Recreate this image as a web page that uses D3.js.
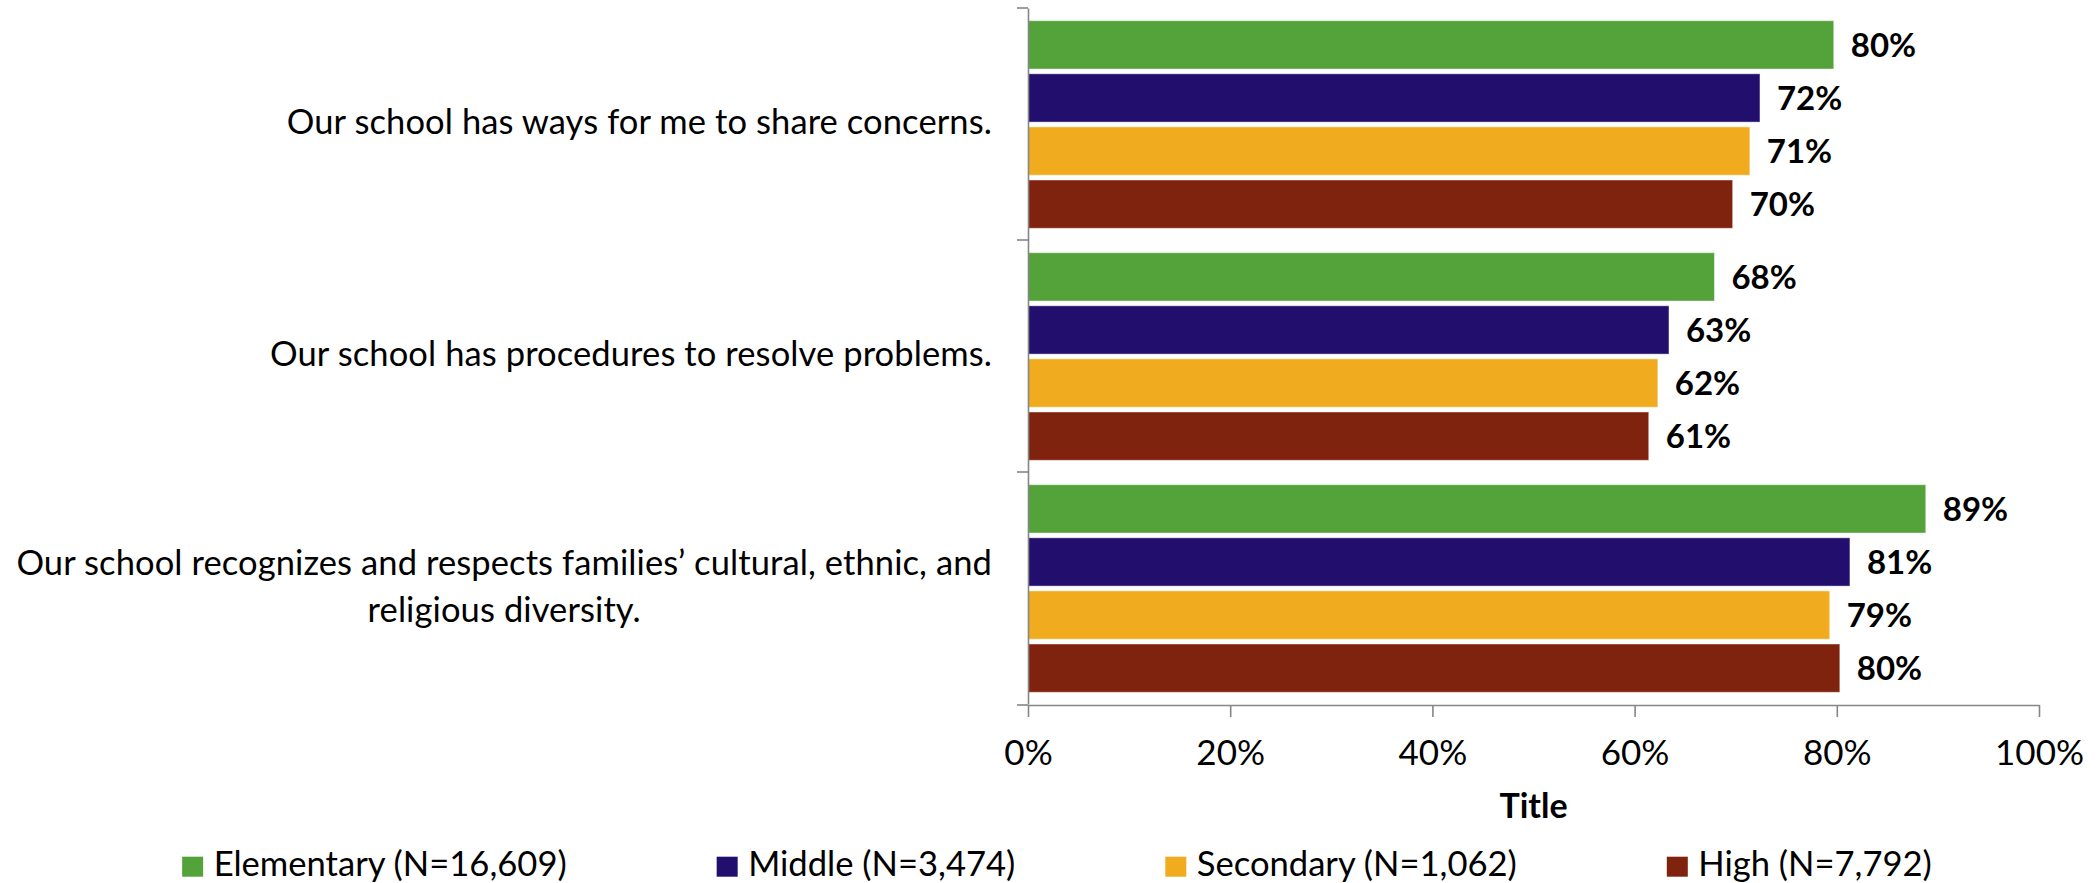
<!DOCTYPE html>
<html><head><meta charset="utf-8">
<script src="https://cdn.jsdelivr.net/npm/d3@7"></script>
<style>
html,body{margin:0;padding:0;background:#fff;}
svg{display:block;font-family:Lato, "Open Sans", sans-serif;}
</style></head>
<body>
<svg id="chart" width="2099" height="883"></svg>
<script>
const questions = [
  "Our school has ways for me to share concerns.",
  "Our school has procedures to resolve problems.",
  "Our school recognizes and respects families\u2019 cultural, ethnic, and religious diversity."
];
const questionLines = [
  ["Our school has ways for me to share concerns."],
  ["Our school has procedures to resolve problems."],
  ["Our school recognizes and respects families\u2019 cultural, ethnic, and", "religious diversity."]
];
const seriesNames = ["Elementary", "Middle", "Secondary", "High"];
const seriesLegend = ["Elementary (N=16,609)", "Middle (N=3,474)", "Secondary (N=1,062)", "High (N=7,792)"];
const seriesColors = ["#54A23A", "#220E6D", "#F0AB1E", "#80230E"];
const elementary = [0.797, 0.679, 0.888];
const middle     = [0.724, 0.634, 0.813];
const secondary  = [0.714, 0.623, 0.793];
const high       = [0.697, 0.614, 0.803];
const xTicks = [0, 0.2, 0.4, 0.6, 0.8, 1.0];
const axisTitle = "Title";

const values = [elementary, middle, secondary, high];
const svg = d3.select("#chart");
const axisColor = "#868686";

const x = d3.scaleLinear().domain([0, 1]).range([1028, 2039]);
const y0 = d3.scaleBand().domain(questions).range([8, 704]).padding(0);
const y1 = d3.scaleBand().domain(seriesNames).range([12.7, 220.3]).paddingInner(0.09).paddingOuter(0);

// bars
const groups = svg.append("g").selectAll("g").data(questions).join("g")
  .attr("transform", d => `translate(0,${y0(d)})`);
groups.each(function(q, qi) {
  const g = d3.select(this);
  const rows = seriesNames.map((s, si) => ({s, si, v: values[si][qi]}));
  g.selectAll("rect").data(rows).join("rect")
    .attr("x", x(0))
    .attr("y", d => y1(d.s))
    .attr("width", d => x(d.v) - x(0))
    .attr("height", y1.bandwidth())
    .attr("fill", d => seriesColors[d.si])
    .attr("stroke", "#ffffff").attr("stroke-opacity", 0.45).attr("stroke-width", 1);
  g.selectAll("text").data(rows).join("text")
    .attr("x", d => x(d.v) + 17)
    .attr("y", d => y1(d.s) + y1.bandwidth() / 2)
    .attr("dy", "0.36em")
    .attr("font-weight", "bold")
    .attr("font-size", 33)
    .attr("fill", "#000")
    .text(d => Math.round(d.v * 100) + "%");
});

// x axis
const xAxis = svg.append("g").attr("transform", `translate(0,${y0.range()[1] + 1})`)
  .call(d3.axisBottom(x).tickValues(xTicks).tickFormat(d3.format(".0%")).tickSizeInner(12).tickSizeOuter(0));
xAxis.select(".domain").attr("stroke", axisColor).attr("stroke-width", 1.6);
xAxis.selectAll(".tick line").attr("stroke", axisColor).attr("stroke-width", 1.6);
xAxis.selectAll(".tick text").attr("y", 60).attr("dy", 0)
  .attr("font-size", 35).attr("font-family", "Lato").attr("fill", "#000");

// y axis
const yAxis = svg.append("g").attr("transform", `translate(${x(0)},0)`)
  .call(d3.axisLeft(y0).tickSize(0).tickFormat(""));
yAxis.select(".domain").attr("stroke", axisColor).attr("stroke-width", 1.6);
const bounds = questions.map(q => y0(q)).concat([y0.range()[1] + 1]);
yAxis.selectAll("line.bnd").data(bounds).join("line").attr("class", "bnd")
  .attr("x1", -11).attr("x2", 0).attr("y1", d => d).attr("y2", d => d)
  .attr("stroke", axisColor).attr("stroke-width", 1.6);

// category labels
const labelRight = x(0) - 36;
const lineH = 47.5;
questionLines.forEach((lines, qi) => {
  const cy = y0(questions[qi]) + y0.bandwidth() / 2 - 2;
  const g = svg.append("g");
  const texts = lines.map((ln, li) => g.append("text")
    .attr("font-size", 34.5).attr("fill", "#000")
    .attr("letter-spacing", 0.1)
    .attr("y", cy + (li - (lines.length - 1) / 2) * lineH)
    .attr("dy", "0.36em")
    .attr("text-anchor", "middle")
    .text(ln));
  const widths = texts.map(t => t.node().getComputedTextLength());
  const blockW = d3.max(widths);
  texts.forEach(t => t.attr("x", labelRight - blockW / 2));
});

// axis title
svg.append("text")
  .attr("x", (x.range()[0] + x.range()[1]) / 2)
  .attr("y", 818)
  .attr("text-anchor", "middle")
  .attr("font-weight", "bold").attr("font-size", 34)
  .text(axisTitle);

// legend
const legend = svg.append("g");
const items = seriesLegend.map((s, i) => {
  const g = legend.append("g");
  g.append("rect").attr("x", 0).attr("y", -19.3).attr("width", 21).attr("height", 20).attr("fill", seriesColors[i]);
  const t = g.append("text").attr("x", 31.5).attr("y", 0).attr("font-size", 34.6).attr("fill", "#000").text(s);
  return {g, w: 31.5 + t.node().getComputedTextLength()};
});
const gap = 150;
const totalW = d3.sum(items, d => d.w) + gap * (items.length - 1);
let lx = 1057 - totalW / 2;
items.forEach(it => { it.g.attr("transform", `translate(${lx},876)`); lx += it.w + gap; });
</script>
</body></html>
